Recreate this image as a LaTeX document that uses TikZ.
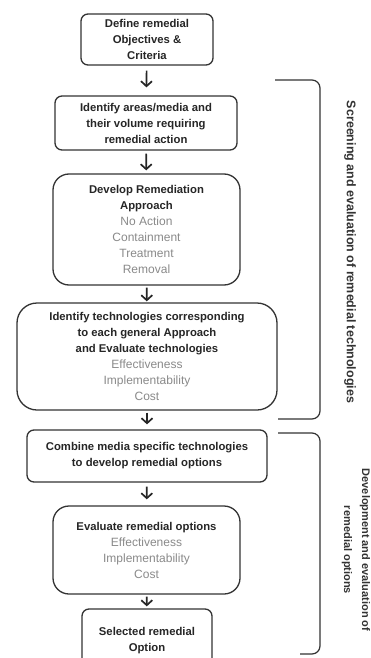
\documentclass[tikz,border=0pt]{standalone}
\usepackage{fontspec}
\setmainfont{Liberation Sans}
\usetikzlibrary{
	positioning,
	arrows.meta
}
\definecolor{linegray}{HTML}{333333}
\definecolor{optgray}{HTML}{8A8A8A}
\newcommand{\opt}[1]{{\mdseries\fontsize{12}{16}\selectfont\color{optgray}#1}}

\begin{document}
\begin{tikzpicture}[
			x=1pt, y=-1pt,
			block/.style={
				draw=linegray,
				line width=1.3pt,
				rounded corners=7pt,
				text=black!85,
				font=\fontsize{11.3}{16}\selectfont\bfseries,
				inner sep=2pt,
				align=center
			},
			bigblock/.style={block, rounded corners=16pt},
			arrow/.style={-{Straight Barb[length=5pt,width=11pt,line width=1.7pt]},
				line width=1.7pt, black!85, shorten <=3pt, shorten >=3pt},
			bracket/.style={draw=linegray, line width=1.2pt, rounded corners=8pt},
			phase/.style={rotate=-90, text=black!80,
				font=\fontsize{11}{18}\selectfont\bfseries, align=center}
			]
			\useasboundingbox[fill=white] (0,0) rectangle (370,658);
			
			\node[block, minimum width=132pt, minimum height=51pt] (define) at (147,39.5)
			{Define remedial\\Objectives \&\\Criteria};
			
			\node[block, minimum width=182pt, minimum height=54pt] (areas) at (146,123)
			{Identify areas/media and\\their volume requiring\\remedial action};
			
			\node[bigblock, minimum width=187pt, minimum height=111pt] (approach) at (146.5,229.5)
			{Develop Remediation\\Approach\\\opt{No Action}\\\opt{Containment}\\\opt{Treatment}\\\opt{Removal}};
			
			\node[bigblock, rounded corners=20pt, minimum width=260pt, minimum height=107pt] (techs) at (147,356.5)
			{Identify technologies corresponding\\to each general Approach\\and Evaluate technologies\\\opt{Effectiveness}\\\opt{Implementability}\\\opt{Cost}};
			
			\node[block, minimum width=240pt, minimum height=52pt] (combine) at (147,456)
			{Combine media specific technologies\\to develop remedial options};
			
			\node[bigblock, minimum width=187pt, minimum height=88pt] (evaluate) at (146.5,550)
			{Evaluate remedial options\\\opt{Effectiveness}\\\opt{Implementability}\\\opt{Cost}};
			
			\node[block, minimum width=130pt, minimum height=64pt] (selected) at (147,641)
			{Selected remedial\\Option};
			
			\draw[arrow, shorten <=5pt, shorten >=8pt] (define)--(areas);
			\draw[arrow] (areas)--(approach);
			\draw[arrow, shorten <=2pt, shorten >=1pt] (approach)--(techs);
			\draw[arrow, shorten <=2pt, shorten >=5pt] (techs)--(combine);
			\draw[arrow, shorten <=4pt, shorten >=6pt] (combine)--(evaluate);
			\draw[arrow, shorten <=2pt, shorten >=2pt] (evaluate)--(selected);
			
			% phase brackets
			\coordinate (s1) at (275,80);
			\coordinate (e1) at (278,419);
			\coordinate (s2) at (278,433);
			\coordinate (e2) at (300,654);
			\draw[bracket] (s1) -- (320,80) -- (320,419) -- (e1);
			\draw[bracket] (s2) -- (320,433) -- (320,654) -- (e2);
			
			\node[phase, font=\fontsize{12.5}{18}\selectfont\bfseries] (screening) at (350,252)
			{Screening and evaluation of remedial technologies};
			\node[phase] (development) at (356,550)
			{Development and evaluation of\\remedial options};
			
		\end{tikzpicture}
\end{document}
